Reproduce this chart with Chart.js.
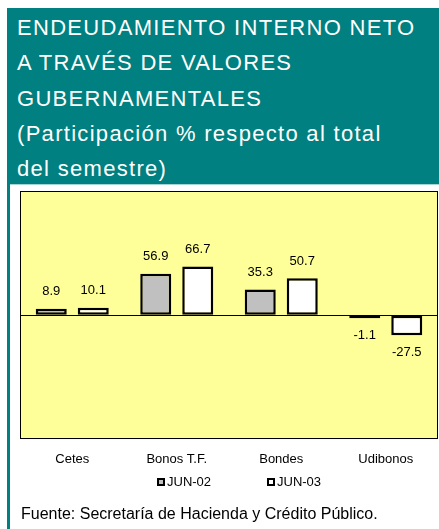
<!DOCTYPE html>
<html>
<head>
<meta charset="utf-8">
<script src="https://cdn.jsdelivr.net/npm/chart.js@4"></script>
<style>
  html, body { margin:0; padding:0; background:#ffffff; width:439px; height:529px; overflow:hidden; font-family:"Liberation Sans", Arial, sans-serif; }
  #leftbar { position:absolute; left:7px; top:8px; width:3px; height:521px; background:#008080; }
  #header { position:absolute; left:10px; top:8px; width:429px; height:176px; background:#008080; color:#ffffff;
            font-size:22px; line-height:35.3px; letter-spacing:1.3px; padding:2px 0 0 7px; box-sizing:border-box; white-space:nowrap; }
  #headline { position:absolute; left:10px; top:184px; width:429px; height:1px; background:#a8d4d4; }
  #wrap { position:absolute; left:10px; top:186px; width:429px; height:293px; }
  #legend { position:absolute; left:0; top:474px; width:439px; height:18px; font-size:13px; color:#000; }
  .li { position:absolute; top:0; line-height:16px; white-space:nowrap; }
  .sw { display:inline-block; width:4px; height:4px; border:2px solid #000; vertical-align:middle; margin-right:2px; position:relative; top:-1px; }
  #footer { position:absolute; left:21px; top:505px; font-size:16px; line-height:18px; color:#000; white-space:nowrap; }
</style>
</head>
<body>
<div id="leftbar"></div>
<div id="header">ENDEUDAMIENTO INTERNO NETO<br>A TRAVÉS DE VALORES<br>GUBERNAMENTALES<br>(Participación % respecto al total<br>del semestre)</div>
<div id="headline"></div>
<div id="wrap"><canvas id="c"></canvas></div>
<div id="legend">
  <span class="li" style="left:157px"><span class="sw" style="background:#c0c0c0"></span>JUN-02</span>
  <span class="li" style="left:267px"><span class="sw" style="background:#ffffff"></span>JUN-03</span>
</div>
<div id="footer">Fuente: Secretaría de Hacienda y Crédito Público.</div>
<script>
const categories = ["Cetes", "Bonos T.F.", "Bondes", "Udibonos"];
const seriesNames = ["JUN-02", "JUN-03"];
const jun02 = [8.9, 56.9, 35.3, -1.1];
const jun03 = [10.1, 66.7, 50.7, -27.5];

const bgPlugin = {
  id: 'bg',
  beforeDraw(chart) {
    const {ctx, chartArea:a} = chart;
    ctx.save();
    ctx.fillStyle = '#ffff99';
    ctx.fillRect(a.left, a.top, a.right - a.left, a.bottom - a.top);
    ctx.restore();
  },
  afterDraw(chart) {
    const {ctx, chartArea:a} = chart;
    ctx.save();
    ctx.strokeStyle = '#000';
    ctx.lineWidth = 1;
    ctx.strokeRect(Math.round(a.left) + 0.5, Math.round(a.top) + 0.5, Math.round(a.right - a.left) - 1, Math.round(a.bottom - a.top) - 1);
    ctx.restore();
  }
};

const labelPlugin = {
  id: 'vals',
  afterDatasetsDraw(chart) {
    const ctx = chart.ctx;
    ctx.save();
    ctx.font = '13px "Liberation Sans", Arial, sans-serif';
    ctx.fillStyle = '#000';
    ctx.textAlign = 'center';
    ctx.textBaseline = 'middle';
    chart.data.datasets.forEach((ds, di) => {
      const meta = chart.getDatasetMeta(di);
      meta.data.forEach((el, i) => {
        const v = ds.data[i];
        const end = v >= 0 ? Math.min(el.y, el.base) : Math.max(el.y, el.base);
        const y = v >= 0 ? end - 17 : end + 17;
        ctx.fillText(v.toFixed(1), el.x, y);
      });
    });
    ctx.restore();
  }
};

new Chart(document.getElementById('c'), {
  type: 'bar',
  data: {
    labels: categories,
    datasets: [
      { label: seriesNames[0], data: jun02, backgroundColor: '#c0c0c0', borderColor: '#000', borderWidth: 2.5, borderSkipped: false,
        categoryPercentage: 0.804, barPercentage: 0.738, minBarLength: 3 },
      { label: seriesNames[1], data: jun03, backgroundColor: '#ffffff', borderColor: '#000', borderWidth: 2.5, borderSkipped: false,
        categoryPercentage: 0.804, barPercentage: 0.738, minBarLength: 3 }
    ]
  },
  options: {
    responsive: true,
    maintainAspectRatio: false,
    animation: false,
    layout: { padding: { left: 10, right: 1, top: 5, bottom: 0 } },
    plugins: { legend: { display: false }, tooltip: { enabled: false } },
    scales: {
      x: {
        grid: { display: false, drawTicks: false },
        border: { display: false },
        ticks: { color: '#000', font: { family: '"Liberation Sans", Arial, sans-serif', size: 13 }, padding: 12, maxRotation: 0 }
      },
      y: {
        min: -170, max: 170,
        ticks: { display: false, stepSize: 170 },
        border: { display: false },
        grid: { drawTicks: false, color: (c) => c.tick && c.tick.value === 0 ? '#000' : 'rgba(0,0,0,0)', lineWidth: 1 }
      }
    }
  },
  plugins: [bgPlugin, labelPlugin]
});
</script>
</body>
</html>
